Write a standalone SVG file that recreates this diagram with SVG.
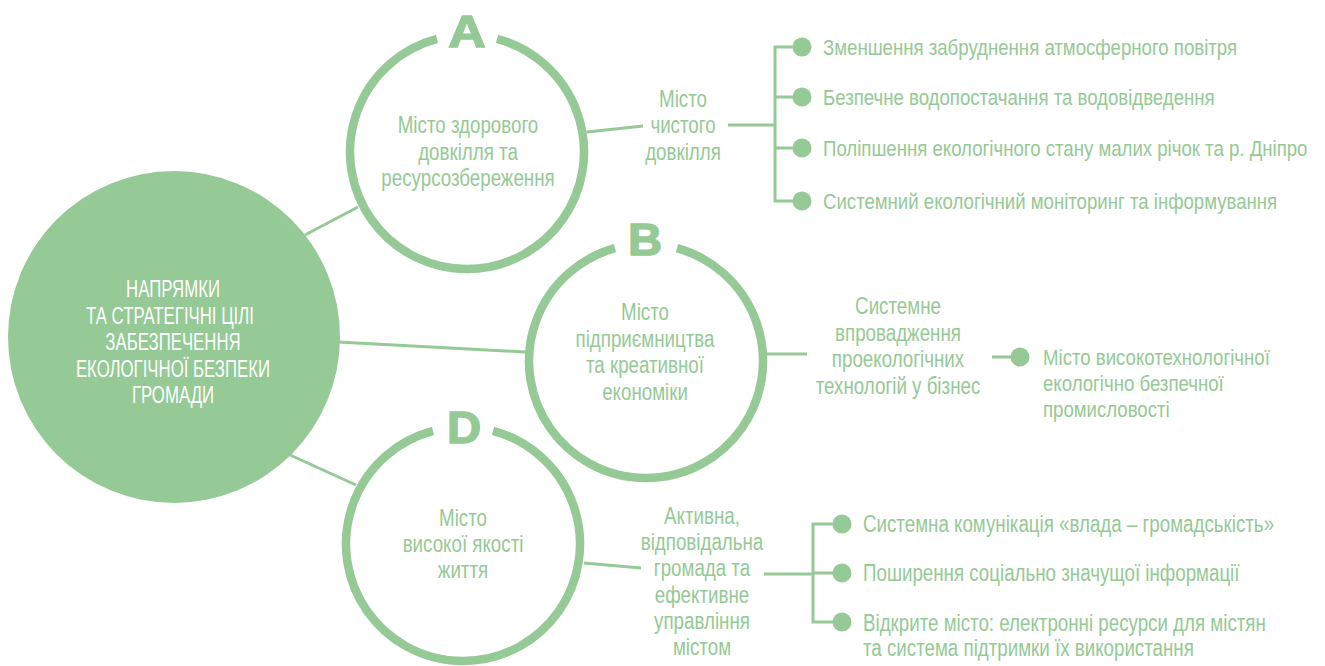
<svg xmlns="http://www.w3.org/2000/svg" width="1325" height="666" viewBox="0 0 1325 666">
<style>
.t{font-family:"Liberation Sans",Arial,sans-serif;font-size:23px;fill:#95C995}
.c{text-anchor:middle}
.w{fill:#ffffff}
.ring{fill:none;stroke:#95C995;stroke-width:8.5}
.ln{fill:none;stroke:#95C995;stroke-width:3}
.dot{fill:#95C995}
.let{font-family:"Liberation Sans",Arial,sans-serif;font-weight:700;font-size:45px;fill:#95C995;stroke:#95C995;stroke-width:1.5;text-anchor:middle}
</style>
<rect width="1325" height="666" fill="#ffffff"/>
<g id="connectors">
<line class="ln" x1="305" y1="235" x2="358" y2="207"/>
<line class="ln" x1="338" y1="342" x2="525" y2="352"/>
<line class="ln" x1="290" y1="455" x2="356" y2="485"/>
<line class="ln" x1="587" y1="132" x2="643" y2="126"/>
<line class="ln" x1="728" y1="125" x2="775" y2="125"/>
<polyline class="ln" points="801,47 775,47 775,201 801,201"/>
<line class="ln" x1="775" y1="97" x2="801" y2="97"/>
<line class="ln" x1="775" y1="148" x2="801" y2="148"/>
<line class="ln" x1="767" y1="354" x2="807" y2="354"/>
<line class="ln" x1="992" y1="357" x2="1020" y2="357"/>
<line class="ln" x1="584" y1="563" x2="641" y2="568"/>
<line class="ln" x1="764" y1="574" x2="813" y2="574"/>
<polyline class="ln" points="842,524 813,524 813,622 842,622"/>
<line class="ln" x1="813" y1="573" x2="842" y2="573"/>
</g>
<g id="dots">
<circle class="dot" cx="802" cy="47" r="9.5"/>
<circle class="dot" cx="802" cy="97" r="9.5"/>
<circle class="dot" cx="802" cy="148" r="9.5"/>
<circle class="dot" cx="802" cy="201" r="9.5"/>
<circle class="dot" cx="1020" cy="357" r="9.5"/>
<circle class="dot" cx="842" cy="524" r="9.5"/>
<circle class="dot" cx="842" cy="573" r="9.5"/>
<circle class="dot" cx="842" cy="622" r="9.5"/>
</g>
<g id="main">
<circle cx="174" cy="337" r="166" fill="#95C995"/>
<text class="t c w" transform="matrix(.73 0 0 1 173 297)">НАПРЯМКИ</text>
<text class="t c w" transform="matrix(.73 0 0 1 170 324)">ТА СТРАТЕГІЧНІ ЦІЛІ</text>
<text class="t c w" transform="matrix(.73 0 0 1 173 350)">ЗАБЕЗПЕЧЕННЯ</text>
<text class="t c w" transform="matrix(.73 0 0 1 173 377)">ЕКОЛОГІЧНОЇ БЕЗПЕКИ</text>
<text class="t c w" transform="matrix(.73 0 0 1 173 403)">ГРОМАДИ</text>
</g>
<g id="nodeA">
<path class="ring" d="M 437 38.9 A 117 117 0 1 0 497 38.9"/>
<text class="let" transform="matrix(1.15 0 0 1 467 47)">A</text>
<text class="t c" transform="matrix(.815 0 0 1 468 133)">Місто здорового</text>
<text class="t c" transform="matrix(.815 0 0 1 468 160)">довкілля та</text>
<text class="t c" transform="matrix(.815 0 0 1 468 186)">ресурсозбереження</text>
</g>
<g id="nodeA1">
<text class="t c" transform="matrix(.815 0 0 1 683 107)">Місто</text>
<text class="t c" transform="matrix(.815 0 0 1 683 133)">чистого</text>
<text class="t c" transform="matrix(.815 0 0 1 683 160)">довкілля</text>
</g>
<g id="listA">
<text class="t" transform="matrix(.81 0 0 1 823 55)">Зменшення забруднення атмосферного повітря</text>
<text class="t" transform="matrix(.81 0 0 1 823 105)">Безпечне водопостачання та водовідведення</text>
<text class="t" transform="matrix(.81 0 0 1 823 156)">Поліпшення екологічного стану малих річок та р. Дніпро</text>
<text class="t" transform="matrix(.81 0 0 1 823 209)">Системний екологічний моніторинг та інформування</text>
</g>
<g id="nodeB">
<path class="ring" d="M 615 248.2 A 117 117 0 1 0 677 248.2"/>
<text class="let" transform="matrix(1.05 0 0 1 645 255)">B</text>
<text class="t c" transform="matrix(.815 0 0 1 645 320)">Місто</text>
<text class="t c" transform="matrix(.815 0 0 1 645 347)">підприємництва</text>
<text class="t c" transform="matrix(.815 0 0 1 645 373)">та креативної</text>
<text class="t c" transform="matrix(.815 0 0 1 645 400)">економіки</text>
</g>
<g id="nodeB1">
<text class="t c" transform="matrix(.815 0 0 1 898 314)">Системне</text>
<text class="t c" transform="matrix(.815 0 0 1 898 341)">впровадження</text>
<text class="t c" transform="matrix(.815 0 0 1 898 367)">проекологічних</text>
<text class="t c" transform="matrix(.815 0 0 1 898 394)">технологій у бізнес</text>
</g>
<g id="listB">
<text class="t" transform="matrix(.81 0 0 1 1043 365)">Місто високотехнологічної</text>
<text class="t" transform="matrix(.81 0 0 1 1043 391)">екологічно безпечної</text>
<text class="t" transform="matrix(.81 0 0 1 1043 417)">промисловості</text>
</g>
<g id="nodeD">
<path class="ring" d="M 433 430.9 A 117 117 0 1 0 493 430.9"/>
<text class="let" transform="matrix(1.05 0 0 1 464 443)">D</text>
<text class="t c" transform="matrix(.815 0 0 1 463 526)">Місто</text>
<text class="t c" transform="matrix(.815 0 0 1 463 552)">високої якості</text>
<text class="t c" transform="matrix(.815 0 0 1 463 578)">життя</text>
</g>
<g id="nodeD1">
<text class="t c" transform="matrix(.815 0 0 1 702 524)">Активна,</text>
<text class="t c" transform="matrix(.815 0 0 1 702 550)">відповідальна</text>
<text class="t c" transform="matrix(.815 0 0 1 702 576)">громада та</text>
<text class="t c" transform="matrix(.815 0 0 1 702 603)">ефективне</text>
<text class="t c" transform="matrix(.815 0 0 1 702 629)">управління</text>
<text class="t c" transform="matrix(.815 0 0 1 702 655)">містом</text>
</g>
<g id="listD">
<text class="t" transform="matrix(.815 0 0 1 863 532)">Системна комунікація «влада – громадськість»</text>
<text class="t" transform="matrix(.815 0 0 1 863 581)">Поширення соціально значущої інформації</text>
<text class="t" transform="matrix(.815 0 0 1 863 631)">Відкрите місто: електронні ресурси для містян</text>
<text class="t" transform="matrix(.815 0 0 1 863 656)">та система підтримки їх використання</text>
</g>
</svg>
